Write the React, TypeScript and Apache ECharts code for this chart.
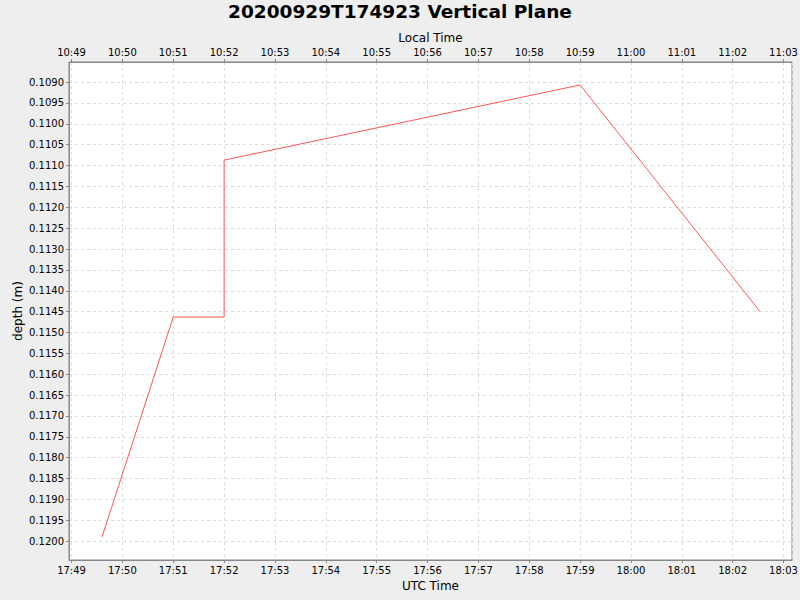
import React, { useEffect, useRef } from 'react';
import * as echarts from 'echarts';

// UTC sample times (2020-09-29) and measured depth in metres
const utcTimes = ['17:49:36', '17:51:00', '17:52:00', '17:52:00', '17:59:00', '18:02:32'];
const depths = [0.1199, 0.11463, 0.11463, 0.11087, 0.10907, 0.11449];

const axisStart = '17:48:57';
const axisEnd = '18:03:10';
const localOffsetHours = -7;

const depthMin = 0.10852;
const depthMax = 0.12045;
const depthStep = 0.0005;

const toMs = (hms: string) => {
  const [h, m, s] = hms.split(':').map(Number);
  return Date.UTC(2020, 8, 29, h, m, s);
};

const pad = (n: number) => (n < 10 ? '0' + n : '' + n);
const fmtTime = (offsetH: number) => (v: number) => {
  const d = new Date(v + offsetH * 3600000);
  return pad(d.getUTCHours()) + ':' + pad(d.getUTCMinutes());
};

const FONT = 'DejaVu Sans';

const App: React.FC = () => {
  const chartRef = useRef<HTMLDivElement>(null);

  useEffect(() => {
    if (!chartRef.current) return;
    const chart = echarts.init(chartRef.current, undefined, { renderer: 'svg' });

    const xMin = toMs(axisStart);
    const xMax = toMs(axisEnd);

    const timeAxis = (position: 'top' | 'bottom', name: string, offset: number) => ({
      type: 'time',
      position,
      name,
      nameLocation: 'middle',
      nameGap: position === 'top' ? 18 : 20,
      nameMoveOverlap: false,
      nameTextStyle: { color: '#000', fontSize: 12, fontFamily: FONT },
      min: xMin,
      max: xMax,
      minInterval: 60000,
      maxInterval: 60000,
      axisLine: { show: true, lineStyle: { color: '#888' } },
      axisTick: { show: true, length: 3, lineStyle: { color: '#888' } },
      axisLabel: {
        color: '#000',
        fontSize: 10,
        fontFamily: FONT,
        margin: 5,
        hideOverlap: false,
        formatter: fmtTime(offset)
      },
      splitLine: {
        show: position === 'bottom',
        lineStyle: { color: '#dcdcdc', type: [3, 3] }
      }
    });

    const option = {
      animation: false,
      backgroundColor: '#eeeeee',
      title: {
        text: '20200929T174923 Vertical Plane',
        left: 'center',
        top: -3,
        textStyle: { fontSize: 18.5, fontWeight: 'bold', color: '#000', fontFamily: FONT }
      },
      grid: {
        left: 69,
        right: 8,
        top: 62,
        bottom: 40,
        outerBoundsMode: 'none',
        containLabel: false,
        show: true,
        backgroundColor: '#ffffff',
        borderColor: '#888',
        borderWidth: 1
      },
      xAxis: [timeAxis('bottom', 'UTC Time', 0), timeAxis('top', 'Local Time', localOffsetHours)],
      yAxis: {
        type: 'value',
        inverse: true,
        min: depthMin,
        max: depthMax,
        minInterval: depthStep,
        maxInterval: depthStep,
        splitNumber: 24,
        name: 'depth (m)',
        nameLocation: 'middle',
        nameGap: 45,
        nameMoveOverlap: false,
        nameTextStyle: { color: '#000', fontSize: 12, fontFamily: FONT },
        axisLine: { show: true, lineStyle: { color: '#888' } },
        axisTick: { show: true, length: 3, lineStyle: { color: '#888' } },
        axisLabel: {
          color: '#000',
          fontSize: 10,
          fontFamily: FONT,
          margin: 5,
          showMinLabel: false,
          showMaxLabel: false,
          formatter: (v: number) => v.toFixed(4)
        },
        splitLine: { show: true, lineStyle: { color: '#dcdcdc', type: [3, 3] } }
      },
      series: [
        {
          type: 'line',
          xAxisIndex: 0,
          data: utcTimes.map((t, i) => [toMs(t), depths[i]]),
          showSymbol: false,
          symbol: 'none',
          lineStyle: { color: '#ff5555', width: 1 }
        }
      ]
    };

    chart.setOption(option);
    return () => chart.dispose();
  }, []);

  return (
    <div
      ref={chartRef}
      style={{ position: 'fixed', left: 0, top: 0, width: 800, height: 600 }}
    />
  );
};

export default App;
